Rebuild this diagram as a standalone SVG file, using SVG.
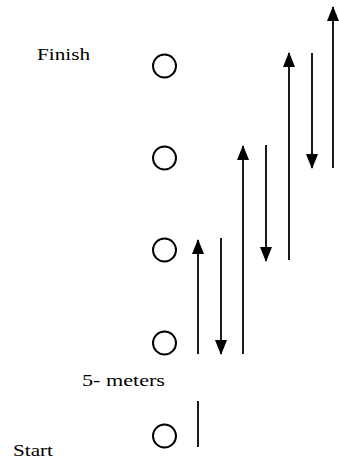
<svg xmlns="http://www.w3.org/2000/svg" width="339" height="460" viewBox="0 0 339 460">
<style>
.cone{fill:none;stroke:#000;stroke-width:2}
.ln{stroke:#000;stroke-width:1.8;fill:none}
.lbl{font-family:"Liberation Serif",serif;font-size:17px;fill:#000}
</style>
<defs>
<marker id="ah" viewBox="0 0 15 12" refX="14" refY="6" markerWidth="15" markerHeight="12" markerUnits="userSpaceOnUse" orient="auto">
<path d="M0,0 L15,6 L0,12 Z" fill="#000"/>
</marker>
</defs>
<rect width="339" height="460" fill="#fff"/>
<g id="cone1"><ellipse class="cone" cx="164.5" cy="66" rx="11.5" ry="11.5"/></g>
<g id="cone2"><ellipse class="cone" cx="164.5" cy="158" rx="11.5" ry="11.5"/></g>
<g id="cone3"><ellipse class="cone" cx="164.5" cy="250" rx="11.5" ry="11.5"/></g>
<g id="cone4"><ellipse class="cone" cx="164.5" cy="343" rx="11.5" ry="11.5"/></g>
<g id="cone5"><ellipse class="cone" cx="164.5" cy="436" rx="11.5" ry="11.5"/></g>
<g id="labels">
<text class="lbl" x="37" y="60" textLength="53" lengthAdjust="spacingAndGlyphs">Finish</text>
<text class="lbl" x="82" y="386" textLength="83" lengthAdjust="spacingAndGlyphs">5- meters</text>
<text class="lbl" x="13" y="456" textLength="40" lengthAdjust="spacingAndGlyphs">Start</text>
</g>
<g id="connectors">
<line class="ln" x1="198" y1="447" x2="198" y2="401"/>
<line class="ln" x1="198" y1="354" x2="198" y2="240" marker-end="url(#ah)"/>
<line class="ln" x1="221" y1="238" x2="221" y2="354" marker-end="url(#ah)"/>
<line class="ln" x1="243" y1="354" x2="243" y2="146" marker-end="url(#ah)"/>
<line class="ln" x1="266" y1="145" x2="266" y2="261" marker-end="url(#ah)"/>
<line class="ln" x1="289" y1="260" x2="289" y2="53" marker-end="url(#ah)"/>
<line class="ln" x1="312" y1="53" x2="312" y2="168" marker-end="url(#ah)"/>
<line class="ln" x1="333" y1="168" x2="333" y2="7" marker-end="url(#ah)"/>
</g>
</svg>
